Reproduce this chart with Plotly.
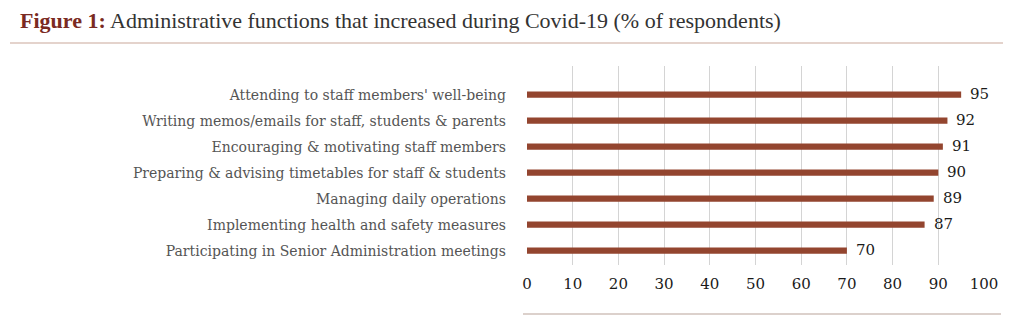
import plotly.graph_objects as go

categories = [
    "Attending to staff members' well-being",
    "Writing memos/emails for staff, students & parents",
    "Encouraging & motivating staff members",
    "Preparing & advising timetables for staff & students",
    "Managing daily operations",
    "Implementing health and safety measures",
    "Participating in Senior Administration meetings",
]
values = [95, 92, 91, 90, 89, 87, 70]
x_ticks = [0, 10, 20, 30, 40, 50, 60, 70, 80, 90, 100]

W, H = 1024, 334
L, R, T, B = 527, 984, 66, 265  # plot area pixels

BAR = "#93452f"
FONT = "DejaVu Serif"
TFONT = "Liberation Serif"

cats_rev = categories[::-1]
vals_rev = values[::-1]

fig = go.Figure()
fig.add_trace(go.Bar(
    x=vals_rev, y=cats_rev, orientation="h",
    marker=dict(color=BAR, line=dict(width=0)),
    width=0.24, hoverinfo="x+y",
))

def px_x(p):
    return (p - L) / (R - L)

def px_y(p):
    return 1 - (p - T) / (B - T)

value_labels = [
    dict(x=v, y=c, xref="x", yref="y", text=str(v), showarrow=False,
         xanchor="left", yanchor="middle", xshift=7, yshift=1,
         font=dict(family=FONT, size=15, color="#1a1a1a"))
    for v, c in zip(vals_rev, cats_rev)
]

fig.update_layout(
    width=W, height=H,
    margin=dict(l=L, r=W - R, t=T, b=H - B, pad=0),
    paper_bgcolor="white", plot_bgcolor="white",
    showlegend=False,
    font=dict(family=FONT),
    xaxis=dict(range=[0, 100], tickvals=x_ticks, showgrid=True, gridcolor="#d4d4d4",
               gridwidth=1, zeroline=False, showline=False,
               tickfont=dict(family=FONT, size=15, color="#1a1a1a"),
               ticks="", ticklabelstandoff=8, fixedrange=True),
    yaxis=dict(range=[-0.55, 7.1], showgrid=False, zeroline=False, showline=False,
               tickfont=dict(family=FONT, size=14, color="#555555"),
               ticks="", ticklabelstandoff=20),
    shapes=[
        dict(type="line", xref="paper", yref="paper", x0=px_x(10), x1=px_x(1003),
             y0=px_y(43), y1=px_y(43), line=dict(color="#c9a89a", width=1.2)),
        dict(type="line", xref="paper", yref="paper", x0=px_x(523), x1=px_x(1001),
             y0=px_y(314), y1=px_y(314), line=dict(color="#b9a49a", width=1.2)),
    ],
    annotations=[
        dict(xref="paper", yref="paper", x=px_x(18), y=px_y(20), xanchor="left", yanchor="middle",
             showarrow=False,
             text="<b><span style='color:#7a2a22'>Figure 1:</span></b> Administrative functions that increased during Covid-19 (% of respondents)",
             font=dict(family=TFONT, size=22, color="#333333")),
    ] + value_labels,
)

fig.write_html("out.html")
